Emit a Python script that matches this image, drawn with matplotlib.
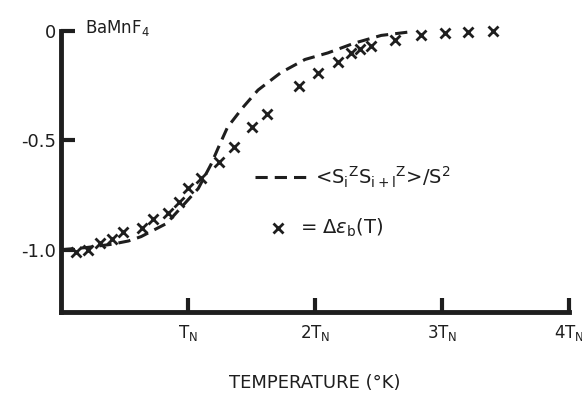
import matplotlib
matplotlib.use("Agg")
import matplotlib.pyplot as plt

# crosses: delta eps_b(T), T in units of T_N
t_cross = [0.12, 0.21, 0.31, 0.40, 0.49, 0.64, 0.72, 0.84, 0.93, 1.00, 1.10,
           1.24, 1.36, 1.50, 1.62, 1.87, 2.02, 2.18, 2.28, 2.35, 2.44, 2.63,
           2.83, 3.02, 3.20, 3.40]
e_cross = [-1.01, -1.00, -0.97, -0.95, -0.92, -0.90, -0.86, -0.83, -0.78, -0.72,
           -0.67, -0.60, -0.53, -0.44, -0.38, -0.25, -0.19, -0.14, -0.10, -0.08,
           -0.07, -0.04, -0.02, -0.01, -0.005, 0.0]

# dashed curve: <SiZ Si+1Z>/S^2
t_corr = [0.0, 0.2, 0.4, 0.53, 0.63, 0.83, 0.94, 1.08, 1.18, 1.24, 1.31, 1.43,
          1.55, 1.73, 1.92, 2.10, 2.31, 2.52, 2.73]
c_corr = [-1.0, -0.99, -0.975, -0.96, -0.94, -0.88, -0.81, -0.72, -0.61, -0.53,
          -0.44, -0.35, -0.27, -0.19, -0.13, -0.10, -0.055, -0.02, -0.005]

xticks = [1, 2, 3, 4]
xticklabels = [r'T$_\mathregular{N}$', r'2T$_\mathregular{N}$',
               r'3T$_\mathregular{N}$', r'4T$_\mathregular{N}$']
yticks = [0, -0.5, -1.0]
yticklabels = ['0', '-0.5', '-1.0']

plt.rcParams['font.family'] = ['DejaVu Sans']
ink = '#1e1e1e'

fig = plt.figure(figsize=(5.82, 3.93), dpi=100)
ax = fig.add_axes([0.105, 0.206, 0.873, 0.715])

ax.plot(t_corr, c_corr, color=ink, lw=2.2, linestyle=(0, (4, 2.3)), clip_on=False)
ax.plot(t_cross, e_cross, 'x', color=ink, ms=7, mew=2, clip_on=False)

ax.set_xlim(0, 4)
ax.set_ylim(-1.285, 0)
ax.set_xticks(xticks)
ax.set_xticklabels(xticklabels, fontsize=12)
ax.set_yticks(yticks)
ax.set_yticklabels(yticklabels, fontsize=13)
ax.tick_params(direction='in', length=10, width=3, color=ink, labelcolor=ink)
ax.tick_params(axis='x', pad=8)

for s in ['top', 'right']:
    ax.spines[s].set_visible(False)
for s in ['left', 'bottom']:
    ax.spines[s].set_linewidth(3.5)
    ax.spines[s].set_color(ink)

ax.set_xlabel('TEMPERATURE (°K)', fontsize=13, color=ink, labelpad=22)

ax.text(0.047, 1.01, r'BaMnF$_4$', transform=ax.transAxes, fontsize=12,
        color=ink, va='center')

# legend drawn by hand
ax.plot([0.382, 0.49], [0.48, 0.48], transform=ax.transAxes, color=ink, lw=2.2,
        linestyle=(0, (4, 2.3)), clip_on=False)
ax.text(0.5, 0.48, r'<S$_\mathregular{i}$$^\mathregular{Z}$S$_\mathregular{i+l}$$^\mathregular{Z}$>/S$^\mathregular{2}$',
        transform=ax.transAxes, fontsize=14, color=ink, va='center')
ax.plot([0.427], [0.299], 'x', transform=ax.transAxes, color=ink, ms=7, mew=2,
        clip_on=False)
ax.text(0.47, 0.299, r'= $\Delta\epsilon_\mathregular{b}$(T)', transform=ax.transAxes,
        fontsize=14, color=ink, va='center')

fig.savefig('out.png', dpi=100)
